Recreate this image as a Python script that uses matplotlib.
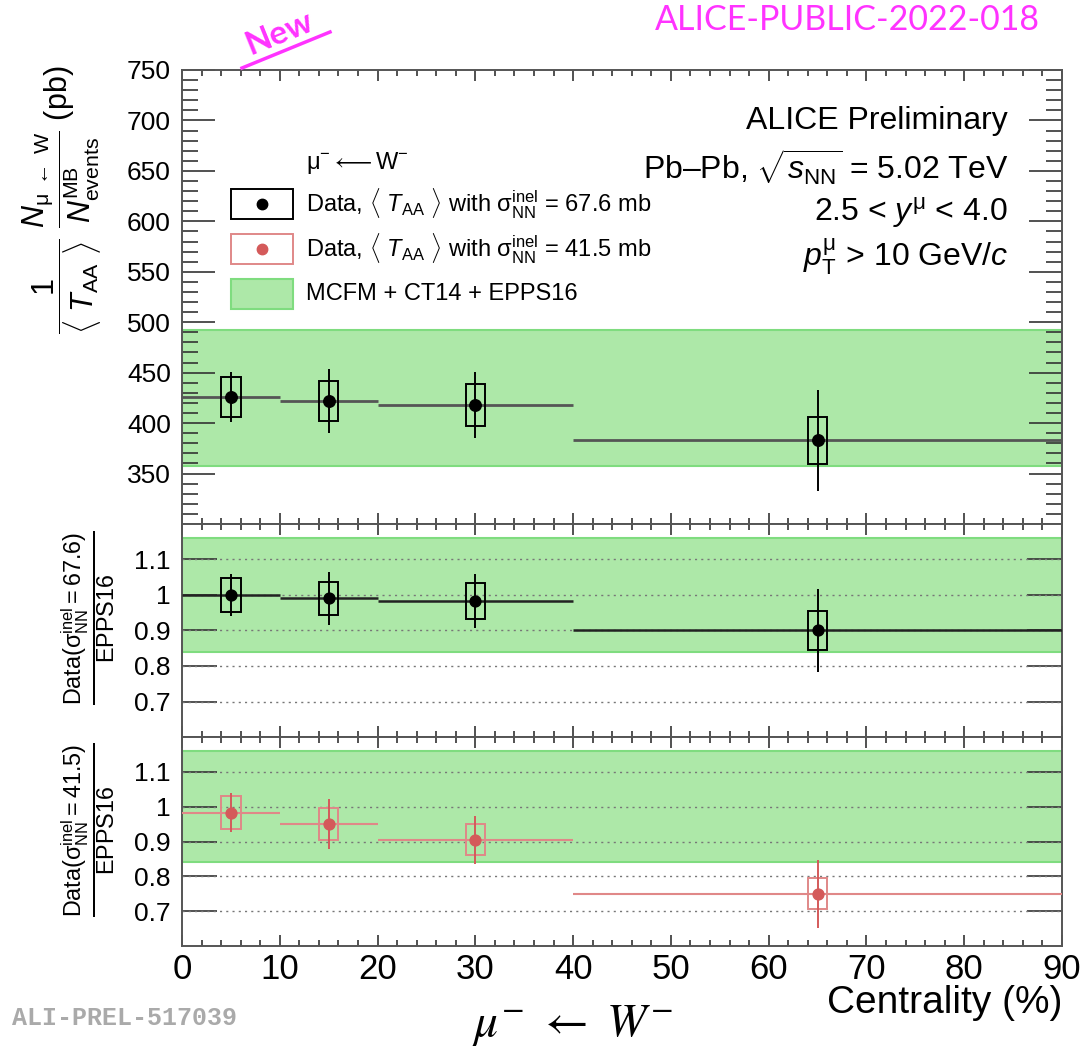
import matplotlib
matplotlib.use("Agg")
import matplotlib.pyplot as plt
from matplotlib.patches import Rectangle
from matplotlib.lines import Line2D
import numpy as np

plt.rcParams['font.family'] = ['Liberation Sans', 'DejaVu Sans']
plt.rcParams['mathtext.fontset'] = 'custom'
plt.rcParams['mathtext.rm'] = 'Liberation Sans'
plt.rcParams['mathtext.it'] = 'Liberation Sans:italic'
plt.rcParams['mathtext.bf'] = 'Liberation Sans:bold'

# centrality classes (%)
bin_edges = [0, 10, 20, 40, 90]
centrality = [5, 15, 30, 65]

# normalised yields (pb)
yield_val = [426, 422, 418, 383]
yield_stat = [25, 32, 33, 50]
yield_sys = [20, 20, 21, 23.5]

# data / EPPS16, <TAA> with sigma_NN = 67.6 mb
ratio676 = [1.0, 0.991, 0.983, 0.90]
ratio676_stat = [0.058, 0.075, 0.075, 0.118]
ratio676_sys = [0.047, 0.047, 0.050, 0.055]

# data / EPPS16, <TAA> with sigma_NN = 41.5 mb
ratio415 = [0.983, 0.950, 0.905, 0.750]
ratio415_stat = [0.057, 0.071, 0.069, 0.098]
ratio415_sys = [0.047, 0.045, 0.045, 0.044]

# MCFM + CT14 + EPPS16 band
model_band = [357, 492]
model_ratio_band = [0.84, 1.16]

black = '#000000'
red = '#d45a5a'
red_light = '#e08888'
green = '#ade8a8'
green_edge = '#7fdc7f'
box_hw = 1.0

fig = plt.figure(figsize=(10.89, 10.57), dpi=100)
W, H = 1089, 1057
left, width = 182 / W, 880 / W
ax0 = fig.add_axes([left, 1 - 524 / H, width, 454 / H])
ax1 = fig.add_axes([left, 1 - 737 / H, width, 213 / H])
ax2 = fig.add_axes([left, 1 - 946 / H, width, 209 / H])

lo = np.array(bin_edges[:-1])
hi = np.array(bin_edges[1:])


def draw_points(ax, y, stat, sys, col, box_col, hcol, hlw, ms):
    ax.hlines(y, lo, hi, colors=hcol, lw=hlw, zorder=4)
    ax.errorbar(centrality, y, yerr=stat, fmt='o', color=col, ms=ms,
                elinewidth=1.4, capsize=0, zorder=6)
    for xc, yc, s in zip(centrality, y, sys):
        ax.add_patch(Rectangle((xc - box_hw, yc - s), 2 * box_hw, 2 * s,
                               fill=False, ec=box_col, lw=1.4, zorder=5))


def style(ax, ylim):
    ax.set_xlim(0, 90)
    ax.set_ylim(*ylim)
    ax.xaxis.set_major_locator(plt.MultipleLocator(10))
    ax.xaxis.set_minor_locator(plt.MultipleLocator(2))
    ax.tick_params(which='both', direction='in', top=True, right=True,
                   color='#333333', width=1.2)
    ax.tick_params(axis='x', which='major', length=8)
    ax.tick_params(axis='x', which='minor', length=4)
    ax.tick_params(axis='y', labelsize=19, pad=8)
    for sp in ax.spines.values():
        sp.set_color('#555555')
        sp.set_linewidth(1.4)


# top panel
ax0.axhspan(model_band[0], model_band[1], fc=green, ec=green_edge, lw=1.5, zorder=1)
draw_points(ax0, yield_val, yield_stat, yield_sys, black, black, '#555555', 2, 8.3)
style(ax0, (300, 750))
ax0.yaxis.set_major_locator(plt.MultipleLocator(50))
ax0.yaxis.set_minor_locator(plt.MultipleLocator(10))
ax0.tick_params(axis='y', which='major', length=24)
ax0.tick_params(axis='y', which='minor', length=11.5)
ax0.set_yticks([350, 400, 450, 500, 550, 600, 650, 700, 750])
ax0.tick_params(axis='x', labelbottom=False)

# ratio panels
for ax, r, rs, rsy, col, bcol, hcol, hlw in [
        (ax1, ratio676, ratio676_stat, ratio676_sys, black, black, '#222222', 1.8),
        (ax2, ratio415, ratio415_stat, ratio415_sys, red, red_light, red_light, 1.5)]:
    ax.axhspan(model_ratio_band[0], model_ratio_band[1], fc=green, ec=green_edge,
               lw=1.5, zorder=1)
    for g in [0.7, 0.8, 0.9, 1.0, 1.1]:
        ax.axhline(g, color='#777777', lw=1, ls=(0, (1.5, 3)), zorder=2)
    draw_points(ax, r, rs, rsy, col, bcol, hcol, hlw, 7.8)
    style(ax, (0.6, 1.2))
    ax.set_yticks([0.7, 0.8, 0.9, 1.0, 1.1])
    ax.set_yticklabels(['0.7', '0.8', '0.9', '1', '1.1'])
    ax.yaxis.set_minor_locator(plt.NullLocator())
    ax.tick_params(axis='y', which='major', length=25)

ax1.tick_params(axis='x', labelbottom=False)
ax2.tick_params(axis='x', labelsize=25, pad=5)

# legend
leg_x, leg_w, leg_h = 0.0557, 0.0705, 0.0673
ax0.text(0.141, 0.796, r'$\mathrm{\mu^{-}} \longleftarrow \mathrm{W^{-}}$', transform=ax0.transAxes,
         fontsize=17, va='center', ha='left')
rows = [
    (0.7047, black, black, r'Data, $\langle\ T_{\rm AA}\ \rangle$ with $\mathrm{\sigma}_{\rm NN}^{\rm inel}$ = 67.6 mb'),
    (0.6054, red, red_light, r'Data, $\langle\ T_{\rm AA}\ \rangle$ with $\mathrm{\sigma}_{\rm NN}^{\rm inel}$ = 41.5 mb'),
]
for yc, mc, ec, lab in rows:
    ax0.add_patch(Rectangle((leg_x, yc - leg_h / 2), leg_w, leg_h, transform=ax0.transAxes,
                            fill=False, ec=ec, lw=1.4, zorder=7))
    ax0.add_line(Line2D([leg_x + leg_w / 2], [yc], marker='o', ms=7.5, color=mc,
                        transform=ax0.transAxes, zorder=8))
    ax0.text(0.141, yc, lab, transform=ax0.transAxes, fontsize=17, va='center', ha='left')
ax0.add_patch(Rectangle((leg_x, 0.5067 - leg_h / 2), leg_w, leg_h, transform=ax0.transAxes,
                        fc=green, ec=green_edge, lw=1.5, zorder=7))
ax0.text(0.141, 0.5067, 'MCFM + CT14 + EPPS16', transform=ax0.transAxes, fontsize=17,
         va='center', ha='left')

# header text
tx = (1008 - 182) / 880
for yy, s in [(0.887, 'ALICE Preliminary'),
              (0.785, r'Pb–Pb, $\sqrt{s_{\rm NN}}$ = 5.02 TeV'),
              (0.686, r'2.5 < $y^{\mathrm{\mu}}$ < 4.0'),
              (0.589, r'$p_{\rm T}^{\mathrm{\mu}}$ > 10 GeV/$c$')]:
    ax0.text(tx, yy, s, transform=ax0.transAxes, fontsize=23, ha='right', va='center')

# axis titles
fig.text(62 / W, 1 - 200 / H,
         r'$\dfrac{1}{\langle\ T_{\rm AA}\ \rangle}\ \dfrac{N_{\mathrm{\mu}\ \leftarrow\ \rm W}}{N^{\rm MB}_{\rm events}}$ (pb)',
         rotation=90, ha='center', va='center', fontsize=22)
fig.text(88 / W, 1 - 618 / H,
         r'$\frac{\mathrm{Data}(\mathrm{\sigma}_{\rm NN}^{\rm inel} = 67.6)}{\mathrm{EPPS16}}$',
         rotation=90, ha='center', va='center', fontsize=24)
fig.text(88 / W, 1 - 830 / H,
         r'$\frac{\mathrm{Data}(\mathrm{\sigma}_{\rm NN}^{\rm inel} = 41.5)}{\mathrm{EPPS16}}$',
         rotation=90, ha='center', va='center', fontsize=24)
fig.text(1062 / W, 1 - 1003 / H, 'Centrality (%)', ha='right', va='center', fontsize=28)

# annotations
fig.text(572 / W, 1 - 1025 / H, r'$\mu^{-}\ \leftarrow\ W^{-}$', ha='center', va='center',
         fontsize=34, math_fontfamily='stix')
fig.text(12 / W, 1 - 1018 / H, 'ALI-PREL-517039', ha='left', va='center', fontsize=18,
         family='Liberation Mono', weight='bold', color='#aaaaaa')
fig.text(1040 / W, 1 - 20 / H, 'ALICE-PUBLIC-2022-018', ha='right', va='center',
         fontsize=24.5, family='Lato', color='#ff33ff')
fig.text(279 / W, 1 - 33 / H, 'New', ha='center', va='center', fontsize=24, rotation=22,
         family='Lato', weight='bold', color='#ff33ff')
fig.add_artist(Line2D([242 / W, 330 / W], [1 - 68 / H, 1 - 32 / H], color='#ff33ff', lw=2.5))

fig.savefig('out.png', dpi=100)
